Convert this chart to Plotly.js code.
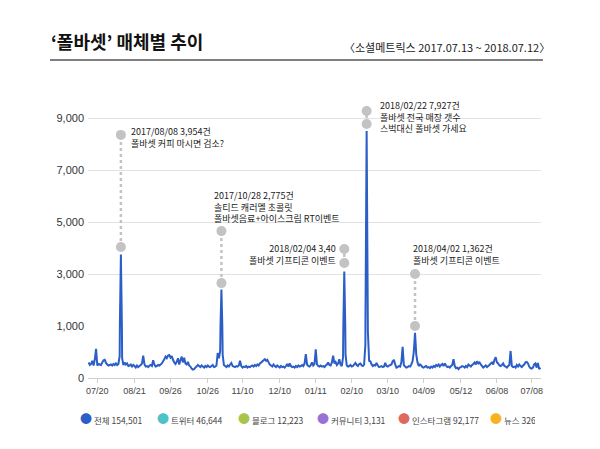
<!DOCTYPE html>
<html>
<head>
<meta charset="utf-8">
<script src="https://cdn.plot.ly/plotly-3.0.1.min.js"></script>
<style>html,body{margin:0;padding:0;background:#fff;}#chart{width:600px;height:449px;}</style>
</head>
<body>
<div id="chart"></div>
<script>
// ---------- DATA ----------
const chartTitle = '‘폴바셋’ 매체별 추이';
const chartSubtitle = '〈소셜메트릭스 2017.07.13 ~ 2018.07.12〉';
const startDate = '2017-07-13';

// daily mention count, 전체 (2017-07-13 .. 2018-07-12)
const dailyTotal = [
  300,250,270,330,240,360,560,240,270,260,
  250,300,340,350,290,260,240,250,260,240,
  270,250,280,250,270,420,3750,380,250,300,
  260,280,230,240,260,220,250,230,200,240,
  210,230,250,280,430,260,220,230,210,240,
  250,230,340,260,220,230,250,240,260,280,
  320,360,410,380,430,440,390,420,350,300,
  270,310,380,260,340,410,300,390,280,260,
  310,240,220,180,160,170,200,220,250,230,
  210,240,220,200,230,210,240,220,210,230,
  250,210,220,240,480,380,520,2400,450,250,
  230,210,240,220,260,290,230,220,210,230,
  220,240,330,230,200,220,210,230,200,220,
  210,230,240,220,250,230,260,240,280,300,
  320,340,360,330,350,300,260,240,220,260,
  230,210,240,220,200,230,210,220,200,230,
  270,220,280,230,210,220,200,230,210,240,
  220,230,250,230,280,460,260,230,220,250,
  300,240,270,550,260,230,220,240,220,230,
  210,240,260,300,250,240,300,430,280,310,
  250,280,360,260,230,400,3100,450,240,220,
  230,250,220,230,260,290,250,230,270,280,
  240,230,260,650,8500,900,330,320,260,230,
  250,240,290,240,210,220,230,210,220,290,
  230,220,240,250,260,320,350,260,200,210,
  230,220,300,600,250,220,200,210,230,220,
  260,320,500,870,450,300,230,260,240,210,
  200,220,230,200,210,190,220,200,230,210,
  250,230,260,220,250,270,230,280,240,210,
  220,200,230,250,360,230,190,200,170,200,
  210,230,220,200,230,210,260,240,220,250,
  270,300,260,320,280,300,260,230,200,220,
  240,210,230,250,280,300,260,350,400,300,
  280,240,230,250,280,230,220,200,230,250,
  520,230,210,220,200,250,220,260,230,210,
  240,260,300,310,280,220,190,180,200,260,
  280,200,290,170,200
];

// x tick labels as printed on the chart
const tickDates = ['2017-07-20','2017-08-19','2017-09-17','2017-10-17','2017-11-14','2017-12-14',
  '2018-01-12','2018-02-10','2018-03-11','2018-04-09','2018-05-09','2018-06-07','2018-07-05'];
const tickLabels = ['07/20','08/21','09/26','10/26','11/10','12/10','01/11','02/10','03/10','04/09','05/12','06/08','07/08'];

// y tick labels as printed
const yTicksLow = [0];
const yTicksHigh = [1000, 3000, 5000, 7000, 9000];

// legend series
const seriesNames = ['전체', '트위터', '블로그', '커뮤니티', '인스타그램', '뉴스'];
const seriesTotals = [154501, 46644, 12223, 3131, 92177, 326];
const seriesColors = ['#2b5ec6', '#4cc2c9', '#a6c549', '#9a70d4', '#dc6a5c', '#f5b321'];

// callouts
const calloutDates = ['2017-08-08', '2017-10-28', '2018-02-04', '2018-02-22', '2018-04-02'];
const calloutLow = [4040, 2650, 3420, 8770, 1000];
const calloutHigh = [8350, 4650, 3960, 9270, 3000];
const calloutLabels = [
  ['2017/08/08 3,954건', '폴바셋 커피 마시면 검소?'],
  ['2017/10/28 2,775건', '솔티드 캐러멜 초콜릿', '폴바셋음료+아이스크림 RT이벤트'],
  ['2018/02/04 3,40', '폴바셋 기프티콘 이벤트'],
  ['2018/02/22 7,927건', '폴바셋 전국 매장 갯수', '스벅대신 폴바셋 가세요'],
  ['2018/04/02 1,362건', '폴바셋 기프티콘 이벤트']
];

// ---------- BUILD ----------
function addDays(s, n) {
  const d = new Date(s + 'T00:00:00Z');
  d.setUTCDate(d.getUTCDate() + n);
  return d.toISOString().slice(0, 10);
}
const dates = dailyTotal.map((_, i) => addDays(startDate, i));

const KR = 'Noto Sans CJK KR, Noto Sans, sans-serif';
const lineColor = seriesColors[0];
const calloutColor = '#c3c3c3';

const traces = [];
// same series drawn on the two stacked y scales (0-1,000 band and 1,000+ band)
['y', 'y2'].forEach(ax => {
  traces.push({
    x: dates, y: dailyTotal, xaxis: 'x', yaxis: ax,
    type: 'scatter', mode: 'lines',
    line: {color: lineColor, width: 2, simplify: false},
    showlegend: false, hoverinfo: 'x+y'
  });
});

// callout dotted connectors
const cx = [], cy = [];
calloutDates.forEach((d, i) => { cx.push(d, d, null); cy.push(calloutLow[i], calloutHigh[i], null); });
traces.push({
  x: cx, y: cy, xaxis: 'x', yaxis: 'y2', type: 'scatter', mode: 'lines+markers',
  line: {color: calloutColor, width: 2.5, dash: 'dot'},
  marker: {color: calloutColor, size: 10},
  cliponaxis: false, showlegend: false, hoverinfo: 'skip'
});

// legend entries: coloured dot sits right next to its label
const legendGaps = [32, 36, 34, 36, 47, 40];
seriesNames.forEach((n, i) => {
  traces.push({
    x: [null], y: [null], type: 'scatter', mode: 'lines',
    line: {color: 'rgba(0,0,0,0)', width: 0},
    name: '<span style="color:' + seriesColors[i] + ';font-size:12px">●</span> ' + n + ' ' + seriesTotals[i].toLocaleString('en-US'),
    legendwidth: legendGaps[i],
    hoverinfo: 'skip'
  });
});

// annotation placement (styling)
const calloutPlace = [
  {ref: 'high', xanchor: 'left', xshift: 8, yanchor: 'middle', yshift: -3, align: 'left'},
  {ref: 'high', xanchor: 'left', xshift: -9, yanchor: 'bottom', yshift: 4, align: 'left'},
  {ref: 'mid', xanchor: 'right', xshift: -6, yanchor: 'middle', yshift: 2, align: 'right'},
  {ref: 'mid', xanchor: 'left', xshift: 11, yanchor: 'middle', yshift: 0, align: 'left'},
  {ref: 'high', xanchor: 'left', xshift: -4, yanchor: 'bottom', yshift: 5, align: 'left'}
];

const plotL = 88, plotR = 541, plotT = 92, plotB = 378;
const pw = plotR - plotL, ph = plotB - plotT;
const px = v => (v - plotL) / pw;
const py = v => (plotB - v) / ph;

const annotations = calloutLabels.map((lines, i) => {
  const p = calloutPlace[i];
  const yv = p.ref === 'high' ? calloutHigh[i] : (calloutLow[i] + calloutHigh[i]) / 2;
  return {
    x: calloutDates[i], y: yv, xref: 'x', yref: 'y2',
    text: lines.join('<br>'), showarrow: false,
    xanchor: p.xanchor, yanchor: p.yanchor, xshift: p.xshift, yshift: p.yshift, align: p.align,
    font: {family: KR, size: 9, color: '#222'}
  };
});
annotations.push({
  xref: 'paper', yref: 'paper', x: px(552), y: py(47), xanchor: 'right', yanchor: 'middle',
  text: chartSubtitle, showarrow: false,
  font: {family: KR, size: 11, color: '#222'}
});

const lowFrac = 52 / ph;

const layout = {
  width: 600, height: 449,
  margin: {l: plotL, r: 600 - plotR, t: plotT, b: 449 - plotB, pad: 0},
  paper_bgcolor: '#fff', plot_bgcolor: 'rgba(0,0,0,0)',
  font: {family: KR, color: '#333'},
  title: {
    text: chartTitle, xref: 'container', yref: 'container',
    x: 51 / 600, xanchor: 'left', y: 1 - 43 / 449, yanchor: 'middle',
    font: {family: KR, size: 18, color: '#111', weight: 'bold'}
  },
  xaxis: {
    type: 'date', range: ['2017-07-12 12:00', '2018-07-12 12:00'],
    anchor: 'y', tickmode: 'array', tickvals: tickDates, ticktext: tickLabels,
    showgrid: false, zeroline: false, showline: true, linecolor: '#cfcfcf', linewidth: 1,
    ticks: 'outside', ticklen: 4, tickcolor: '#cfcfcf',
    tickfont: {family: 'Liberation Sans, Arial, sans-serif', size: 9, color: '#444'}
  },
  yaxis: {
    domain: [0, lowFrac], range: [0, 1000], anchor: 'x',
    tickmode: 'array', tickvals: yTicksLow, ticktext: yTicksLow.map(v => v.toLocaleString('en-US')),
    showgrid: false, zeroline: false, showline: false, ticks: '', ticklabelstandoff: 3,
    tickfont: {family: 'Liberation Sans, Arial, sans-serif', size: 11, color: '#333'}
  },
  yaxis2: {
    domain: [lowFrac, 1], range: [1000, 10000], anchor: 'x',
    tickmode: 'array', tickvals: yTicksHigh, ticktext: yTicksHigh.map(v => v.toLocaleString('en-US')),
    showgrid: true, gridcolor: '#e2e2e2', gridwidth: 1, zeroline: false, showline: false, ticks: '',
    ticklabelstandoff: 3,
    tickfont: {family: 'Liberation Sans, Arial, sans-serif', size: 11, color: '#333'}
  },
  legend: {
    orientation: 'h', xref: 'paper', yref: 'paper',
    x: px(40), xanchor: 'left', y: py(421), yanchor: 'middle',
    font: {family: KR, size: 8.5, color: '#444'}, bgcolor: 'rgba(0,0,0,0)', traceorder: 'normal'
  },
  shapes: [{
    type: 'line', xref: 'paper', yref: 'paper', x0: px(50), x1: px(543), y0: py(60), y1: py(60),
    line: {color: '#555', width: 1.5}
  }],
  annotations: annotations,
  showlegend: true
};

Plotly.newPlot('chart', traces, layout, {displayModeBar: false, staticPlot: true});
</script>
</body>
</html>
